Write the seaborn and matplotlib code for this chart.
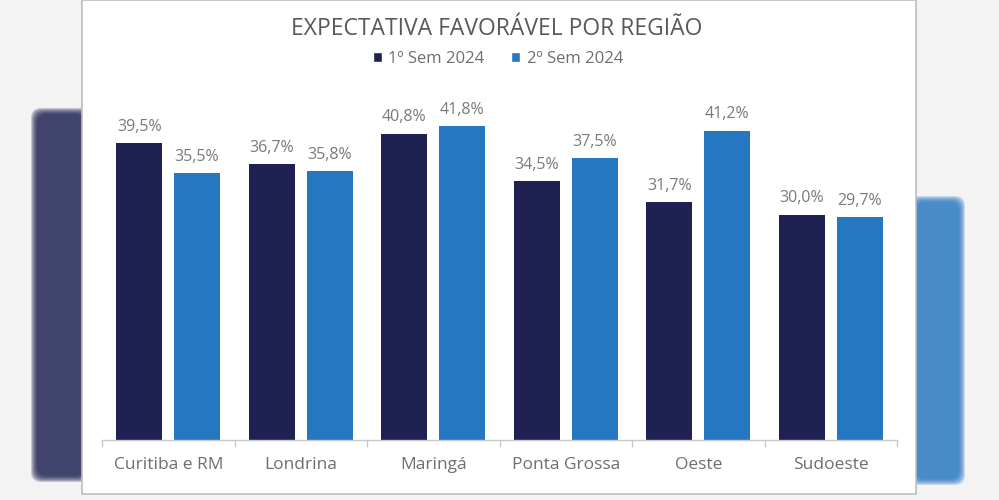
import matplotlib
matplotlib.use("Agg")
import matplotlib.pyplot as plt
import seaborn as sns
import pandas as pd
import numpy as np
from matplotlib.patches import Rectangle, FancyBboxPatch
from matplotlib.ticker import FixedLocator

regions = ["Curitiba e RM", "Londrina", "Maringá", "Ponta Grossa", "Oeste", "Sudoeste"]
sem1 = [39.5, 36.7, 40.8, 34.5, 31.7, 30.0]
sem2 = [35.5, 35.8, 41.8, 37.5, 41.2, 29.7]
series = ["1º Sem 2024", "2º Sem 2024"]
colors = ["#1e2151", "#2677c2"]
title = "EXPECTATIVA FAVORÁVEL POR REGIÃO"

df = pd.DataFrame({
    "Região": regions * 2,
    "Valor": sem1 + sem2,
    "Série": [series[0]] * len(regions) + [series[1]] * len(regions),
})

sns.set_theme(style="white")
plt.rcParams["font.family"] = ["Open Sans", "DejaVu Sans"]

fig = plt.figure(figsize=(9.99, 5.0), dpi=100)
fig.patch.set_facecolor("#f3f3f3")

# blurred background decoration (display coords, origin bottom-left)
for x0, y0, w, h, c in [(38, 25, 45, 360, "#1e2151"), (916, 22, 42, 275, "#2677c2")]:
    for k in range(7):
        pad = 7 - k
        fig.patches.append(FancyBboxPatch((x0 - pad, y0 - pad), w + 2 * pad, h + 2 * pad,
                                          boxstyle="round,pad=0,rounding_size=10",
                                          transform=None, facecolor=c, alpha=0.22,
                                          edgecolor="none", zorder=0))
# white panel
fig.patches.append(Rectangle((82 / 999, 6 / 500), (916 - 82) / 999, (500 - 6) / 500,
                             transform=fig.transFigure, facecolor="white",
                             edgecolor="#bdbdbd", linewidth=1.2, zorder=1))

ax = fig.add_axes([102 / 999, 60 / 500, 795 / 999, 370 / 500])
ax.set_facecolor("none")
ax.set_zorder(2)

sns.barplot(data=df, x="Região", y="Valor", hue="Série", hue_order=series,
            palette=colors, width=0.87, gap=0.2, ax=ax, legend=False,
            saturation=1, errorbar=None, linewidth=0)

ax.set_ylim(0, 370 / 7.51)
ax.set_xlim(-0.5, len(regions) - 0.5)

for cont in ax.containers:
    labels = [f"{v:.1f}".replace(".", ",") + "%" for v in cont.datavalues]
    ax.bar_label(cont, labels=labels, padding=6, fontsize=11.5, color="#7a7a7a")

for s in ["top", "right", "left"]:
    ax.spines[s].set_visible(False)
ax.spines["bottom"].set_color("#c8c8c8")
ax.spines["bottom"].set_linewidth(1.0)
ax.set_yticks([])
ax.set_xlabel("")
ax.set_ylabel("")
ax.tick_params(axis="x", which="major", length=0, pad=12, labelsize=12.5, labelcolor="#6e6e6e")
ax.xaxis.set_minor_locator(FixedLocator(np.arange(-0.5, len(regions), 1.0)))
ax.tick_params(axis="x", which="minor", bottom=True, length=5, color="#c8c8c8", width=1.0,
               direction="out")

fig.text(497 / 999, 1 - 29 / 500, title, ha="center", va="center",
         fontsize=16.5, color="#595959", zorder=3)

# legend
handles = [Rectangle((0, 0), 1, 1, facecolor=c) for c in colors]
leg = fig.legend(handles, series, loc="center", bbox_to_anchor=(498 / 999, 1 - 59 / 500),
                 ncol=2, frameon=False, fontsize=12, handlelength=0.55, handleheight=0.55,
                 handletextpad=0.4, columnspacing=1.6)
for t in leg.get_texts():
    t.set_color("#6e6e6e")

fig.savefig("out.png", dpi=100, facecolor=fig.get_facecolor())
